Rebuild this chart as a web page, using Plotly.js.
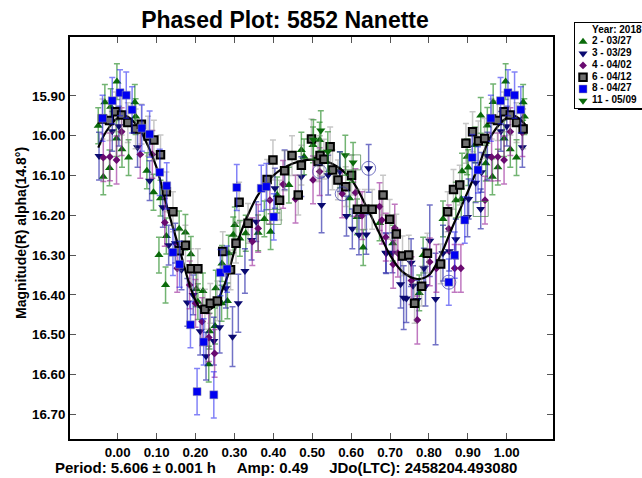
<!DOCTYPE html>
<html><head><meta charset="utf-8">
<script src="https://cdn.plot.ly/plotly-3.0.1.min.js"></script>
<style>html,body{margin:0;padding:0;background:#fff}#c{width:642px;height:478px}</style>
</head><body><div id="c"></div>
<script>
const legendTitle = "Year: 2018";
const names = ["2 - 03/27","3 - 03/29","4 - 04/02","6 - 04/12","8 - 04/27","11 - 05/09"];
const xTicks = [0,0.1,0.2,0.3,0.4,0.5,0.6,0.7,0.8,0.9,1.0];
const yTicks = [15.9,16.0,16.1,16.2,16.3,16.4,16.5,16.6,16.7];

const s2x = [-0.050,-0.037,-0.033,-0.021,-0.018,-0.002,-0.003,0.011,0.028,0.044,0.046,0.075,0.092,0.110,0.106,0.123,0.125,0.158,0.174,0.188,0.202,0.219,0.206,0.236,0.250,0.234,0.252,0.268,0.267,0.282,0.285,0.297,0.301,0.314,0.329,0.361,0.377,0.393,0.410,0.440,0.472,0.479,0.502,0.519,0.571,0.596,0.615,0.631,0.673,0.707,0.775,0.785,0.836,0.869,0.883,0.885,0.898,0.901,0.918,0.933,0.946,0.950,0.963,0.965,0.977,0.993,0.997,1.009,1.025,1.042,1.045];
const s2y = [15.975,16.103,15.916,16.081,15.927,15.864,16.007,16.034,16.055,15.916,15.952,16.088,16.142,16.157,16.300,16.375,16.252,16.234,16.243,16.298,16.385,16.390,16.417,16.491,16.478,16.574,16.383,16.321,16.421,16.415,16.295,16.249,16.224,16.258,16.245,16.244,16.209,16.241,16.149,16.124,16.036,16.053,16.023,16.011,16.086,16.157,16.204,16.281,16.219,16.270,16.395,16.300,16.209,16.162,16.159,16.089,16.053,16.080,16.023,15.949,16.069,15.974,16.103,15.915,16.079,16.007,15.864,16.034,16.055,15.916,15.952];
const s3x = [-0.048,-0.014,0.003,0.051,0.082,0.116,0.131,0.148,0.164,0.179,0.194,0.212,0.227,0.247,0.262,0.278,0.295,0.310,0.327,0.344,0.356,0.404,0.429,0.472,0.524,0.541,0.571,0.588,0.603,0.620,0.639,0.645,0.689,0.690,0.706,0.727,0.735,0.742,0.754,0.759,0.770,0.787,0.791,0.802,0.817,0.836,0.852,0.869,0.899,0.902,0.920,0.933,0.935,0.950,0.985,1.000,1.040];
const s3y = [16.051,15.989,15.976,16.029,16.113,16.180,16.275,16.270,16.337,16.419,16.400,16.491,16.554,16.516,16.481,16.383,16.505,16.421,16.340,16.262,16.216,16.132,16.086,16.103,16.174,16.099,16.090,16.202,16.234,16.249,16.248,16.082,16.294,16.296,16.294,16.373,16.407,16.409,16.319,16.377,16.413,16.333,16.378,16.264,16.410,16.295,16.290,16.260,16.204,16.159,16.118,16.184,16.092,16.051,15.989,15.976,16.029];
const s3e = [0.06,0.05,0.05,0.05,0.05,0.05,0.05,0.05,0.05,0.06,0.05,0.06,0.06,0.06,0.065,0.05,0.075,0.073,0.056,0.05,0.05,0.05,0.05,0.05,0.07,0.05,0.05,0.05,0.05,0.05,0.05,0.06,0.05,0.05,0.05,0.06,0.08,0.06,0.06,0.05,0.05,0.05,0.05,0.09,0.115,0.07,0.05,0.05,0.05,0.05,0.05,0.05,0.05,0.06,0.05,0.05,0.05];
const s4x = [-0.037,-0.020,-0.003,0.010,0.058,0.089,0.121,0.153,0.185,0.200,0.217,0.234,0.249,0.346,0.361,0.391,0.425,0.457,0.502,0.519,0.577,0.611,0.628,0.673,0.679,0.689,0.708,0.712,0.720,0.755,0.770,0.802,0.819,0.851,0.866,0.882,0.944,0.961,0.977,0.993,1.009,1.040];
const s4y = [16.055,16.053,16.061,15.990,16.047,16.047,16.218,16.333,16.375,16.421,16.467,16.507,16.547,16.266,16.233,16.162,16.122,16.159,16.111,16.090,16.146,16.143,16.201,16.178,16.212,16.255,16.323,16.232,16.295,16.364,16.463,16.317,16.333,16.234,16.333,16.333,16.162,16.054,16.053,16.061,15.990,15.992];
const s6x = [-0.039,-0.021,-0.005,0.010,0.026,0.046,0.061,0.078,0.093,0.110,0.125,0.142,0.158,0.174,0.189,0.206,0.224,0.238,0.256,0.270,0.290,0.304,0.312,0.335,0.384,0.399,0.416,0.429,0.448,0.464,0.472,0.498,0.515,0.520,0.530,0.546,0.552,0.566,0.586,0.601,0.616,0.635,0.654,0.682,0.699,0.716,0.732,0.748,0.763,0.781,0.796,0.830,0.848,0.863,0.879,0.895,0.912,0.927,0.943,0.961,0.976,0.993,1.009,1.025,1.042];
const s6y = [15.958,15.962,15.940,15.948,15.967,15.983,15.971,16.001,16.011,16.048,16.141,16.191,16.289,16.275,16.334,16.334,16.436,16.421,16.415,16.291,16.337,16.270,16.167,16.220,16.110,16.061,16.162,16.088,16.050,16.149,16.074,16.008,16.065,16.050,16.059,16.028,16.086,16.111,16.128,16.099,16.185,16.185,16.185,16.149,16.210,16.247,16.302,16.300,16.421,16.378,16.295,16.322,16.191,16.135,16.124,16.019,15.990,16.013,16.007,15.958,15.962,15.940,15.948,15.967,15.983];
const s8x = [-0.039,-0.014,0.006,0.022,0.037,0.062,0.082,0.108,0.126,0.142,0.159,0.187,0.204,0.221,0.247,0.264,0.281,0.306,0.369,0.382,0.401,0.851,0.866,0.892,0.911,0.926,0.959,0.984,1.003,1.020,1.036];
const s8y = [15.956,15.912,15.892,15.898,15.935,15.981,15.996,16.092,16.126,16.293,16.323,16.475,16.643,16.518,16.651,16.344,16.335,16.130,16.132,16.128,16.204,16.368,16.300,16.212,16.055,16.086,15.956,15.912,15.892,15.898,15.935];
const s11x = [0.503,0.522,0.540,0.585,0.605];
const s11y = [16.010,15.987,16.040,16.049,16.067];
const errs = [0.045,null,0.06,0.05,0.058,0.05];

const fitX = [-0.05,-0.03,0,0.02,0.05,0.08,0.10,0.13,0.16,0.19,0.21,0.23,0.25,0.28,0.30,0.33,0.36,0.40,0.45,0.50,0.55,0.60,0.64,0.67,0.70,0.73,0.77,0.80,0.83,0.86,0.90,0.93,0.96,1.0,1.02,1.05];
const fitY = [16.03,15.99,15.955,15.95,15.975,16.03,16.08,16.19,16.29,16.39,16.43,16.44,16.425,16.36,16.29,16.21,16.15,16.10,16.07,16.06,16.07,16.11,16.18,16.24,16.30,16.34,16.36,16.35,16.30,16.23,16.14,16.07,16.00,15.955,15.95,15.975];

const circX = [0.645,0.577,0.519,0.851];
const circY = [16.082,16.146,16.090,16.368];
const boxX = [0.605,0.401,0.933];
const boxY = [16.067,16.204,16.184];

const xs=[s2x,s3x,s4x,s6x,s8x,s11x], ys=[s2y,s3y,s4y,s6y,s8y,s11y];
const syms=["triangle-up","triangle-down","diamond","square","square","triangle-down"];
const fills=["#0a6a0a","#0a0a70","#6a0a70","#707070","#0000f0","#0a6a0a"];
const lines=["#0a6a0a","#0a0a70","#6a0a70","#000000","#a0a0a0","#0a6a0a"];
const errc=["rgba(20,130,20,0.6)","rgba(20,20,160,0.6)","rgba(150,30,150,0.6)","rgba(130,130,130,0.45)","rgba(30,30,240,0.55)","rgba(20,130,20,0.6)"];
const sizes=[8,8,6,7.5,8,8];
const lw=[0,0,0,2,0.5,0];
const scatter=i=>({type:"scatter",mode:"markers",name:names[i],x:xs[i],y:ys[i],showlegend:false,
  marker:{symbol:syms[i],size:sizes[i],color:fills[i],line:{color:lines[i],width:lw[i]}},
  error_y:(errs[i]===null?{type:"data",array:s3e}:{type:"constant",value:errs[i]}),
});
const traces=names.map((n,i)=>{const t=scatter(i);Object.assign(t.error_y,{color:errc[i],thickness:1.5,width:3});return t;});
const fit={type:"scatter",mode:"lines",x:fitX,y:fitY,showlegend:false,hoverinfo:"skip",line:{color:"#000",width:2.2,shape:"spline"}};
traces.splice(3,0,fit);
traces.push({type:"scatter",mode:"markers",x:circX,y:circY,showlegend:false,hoverinfo:"skip",
  marker:{symbol:"circle-open",size:14,color:"rgba(60,60,170,0.7)",line:{width:1}}});
traces.push({type:"scatter",mode:"markers",x:boxX,y:boxY,showlegend:false,hoverinfo:"skip",
  marker:{symbol:"square-open",size:15,color:"rgba(70,130,70,0.7)",line:{width:1}}});

names.forEach((n,i)=>{
  traces.push({type:"scatter",mode:"markers",xaxis:"x2",yaxis:"y2",x:[8],y:[i+1],showlegend:false,hoverinfo:"skip",
    marker:{symbol:syms[i],size:sizes[i],color:fills[i],line:{color:lines[i],width:lw[i]}}});
});
traces.push({type:"scatter",mode:"text",xaxis:"x2",yaxis:"y2",x:[17,17,17,17,17,17,17],y:[0,1,2,3,4,5,6],
  text:[legendTitle].concat(names).map(t=>"<b>"+t+"</b>"),textposition:"middle right",cliponaxis:false,showlegend:false,hoverinfo:"skip",
  textfont:{family:"Liberation Sans, Arial, sans-serif",size:10,color:"#000"}});

const F="Liberation Sans, Arial, sans-serif";
const layout={
  width:642,height:478,paper_bgcolor:"#fff",plot_bgcolor:"#fff",showlegend:false,
  margin:{l:70,r:0,t:23,b:39,pad:0},
  font:{family:F,size:12,color:"#000"},
  title:{text:"<b>Phased Plot: 5852 Nanette</b>",font:{family:F,size:23,color:"#000"},x:285/642,xanchor:"center",y:1-20/478,yanchor:"middle"},
  xaxis:{domain:[0,0.8439],range:[-0.1226,1.118],tickvals:xTicks,ticktext:xTicks.map(v=>"<b>"+v.toFixed(2)+"</b>"),ticks:"inside",ticklen:6,tickcolor:"#555",tickwidth:1,
    showline:true,linecolor:"#000",linewidth:2,mirror:"ticks",showgrid:false,zeroline:false,tickfont:{family:F,size:13.3,color:"#000"}},
  yaxis:{domain:[0,0.9663],range:[16.762,15.752],tickvals:yTicks,ticktext:yTicks.map(v=>"<b>"+v.toFixed(2)+"</b>"),ticks:"inside",ticklen:6,tickcolor:"#555",tickwidth:1,
    showline:true,linecolor:"#000",linewidth:2,mirror:"ticks",showgrid:false,zeroline:false,tickfont:{family:F,size:13.3,color:"#000"}},
  xaxis2:{domain:[0.8829,1],range:[0,67],anchor:"y2",showticklabels:false,ticks:"",showgrid:false,zeroline:false,showline:true,linecolor:"#000",linewidth:1,mirror:true},
  yaxis2:{domain:[0.7957,1],range:[6.61,-0.593],anchor:"x2",showticklabels:false,ticks:"",showgrid:false,zeroline:false,showline:true,linecolor:"#000",linewidth:1,mirror:true},
  shapes:[{type:"line",xref:"paper",yref:"paper",x0:(578-70)/572,x1:1,y0:(439-109)/416,y1:(439-109)/416,line:{color:"#000",width:2}}],
  annotations:[
   {xref:"paper",yref:"paper",x:(286-70)/572,y:(439-467)/416,xanchor:"center",yanchor:"middle",showarrow:false,
    text:"<b>Period: 5.606 ± 0.001 h\u00a0\u00a0\u00a0\u00a0\u00a0Amp: 0.49\u00a0\u00a0\u00a0\u00a0\u00a0JDo(LTC): 2458204.493080</b>",font:{family:F,size:15,color:"#000"}},
   {xref:"paper",yref:"paper",x:(21-70)/572,y:(439-233)/416,xanchor:"center",yanchor:"middle",showarrow:false,textangle:-90,
    text:"<b>Magnitude(R) alpha(14.8°)</b>",font:{family:F,size:14,color:"#000"}}]
};
Plotly.newPlot("c",traces,layout,{displayModeBar:false,responsive:false});
</script></body></html>
